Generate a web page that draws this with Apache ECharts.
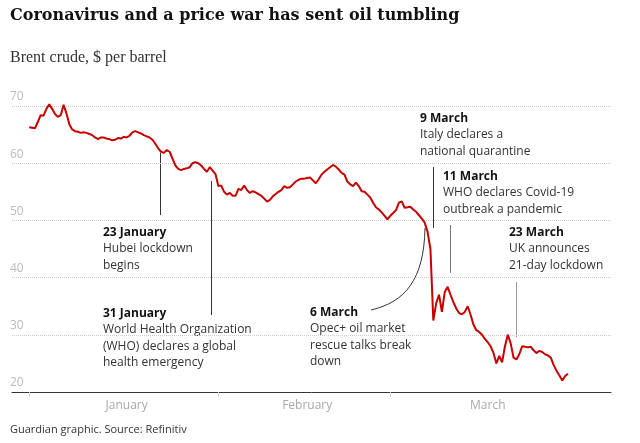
<!DOCTYPE html>
<html>
<head>
<meta charset="utf-8">
<script src="https://cdn.jsdelivr.net/npm/echarts@6/dist/echarts.min.js"></script>
<style>
  html, body { margin: 0; padding: 0; background: #fff; }
  #chart { width: 640px; height: 443px; }
</style>
</head>
<body>
<div id="chart"></div>
<script>
// axis runs over trading days only (weekends and new year skipped), three readings a day
const firstDay = "2019-12-30";
const lastDay = "2020-04-06";
const holidays = ["2020-01-01"];
const sessions = ["02:00", "10:00", "18:00"];
const dataStart = "2020-01-02 02:00";

// Brent crude, $ per barrel (Jan 2 -> Mar 30, 3 per day)
const brent = [
  66.3, 66.2, 66.1,  67.2, 68.4, 68.3,  69.5, 70.3, 69.5,  68.6, 68.1, 68.4,
  70.2, 68.7, 66.8,  65.9, 65.6, 65.5,  65.3, 65.4, 65.3,  65.1, 64.9, 64.5,
  64.2, 64.5, 64.5,  64.3, 64.2, 64.0,  64.1, 64.4, 64.3,  64.6, 64.5, 64.8,
  65.4, 65.6, 65.4,  65.2, 64.9, 64.7,  64.5, 64.1, 63.4,  62.6, 62.0, 61.8,
  62.3, 62.0, 60.8,  59.6, 59.0, 58.8,  59.0, 59.1, 59.3,  60.0, 60.2, 60.0,
  59.6, 59.0, 58.5,  59.3, 58.7, 58.1,
  56.0, 56.1, 55.0,  54.5, 54.8, 54.3,  54.3, 55.5, 55.3,  56.1, 55.3, 54.8,
  55.1, 54.9, 54.6,  54.3, 53.8, 53.3,  53.6, 54.2, 54.6,  55.0, 55.3, 56.0,
  55.7, 55.8, 56.3,  56.8, 57.1, 57.3,  57.3, 57.4, 57.5,  57.0, 56.5, 57.2,
  58.0, 58.5, 58.9,  59.3, 59.7, 59.4,  58.9, 58.3, 58.0,  56.8, 56.3, 56.0,
  56.6, 56.0, 55.1,  55.0, 54.5, 54.0,  53.1, 52.3, 51.9,  51.4, 50.8, 50.2,
  50.8, 51.3, 51.8,  53.1, 53.3, 52.2,  52.3, 52.4, 51.9,  51.5, 50.9, 50.3,
  49.6, 48.0, 45.0,  32.5, 35.5, 37.0,  34.0, 37.5, 38.4,  37.0, 35.7, 34.6,
  33.8, 33.6, 34.0,  35.0, 33.5, 31.8,  30.8, 30.5, 30.0,  29.3, 28.7, 28.0,
  26.8, 25.0, 26.3,  25.2, 28.0, 30.0,  28.5, 26.0, 25.7,  26.6, 28.0, 27.9,
  27.8, 27.9, 27.3,  26.8, 27.2, 27.0,  26.6, 26.4, 26.0,  24.7, 23.7, 22.9,
  22.0, 22.8, 23.2
];

const monthTicks = ["2020-01-02 02:00", "2020-02-03 02:00", "2020-03-02 02:00"];
const monthLabels = {
  "2020-01-17 10:00": "January",
  "2020-02-17 10:00": "February",
  "2020-03-17 10:00": "March"
};

const annotations = [
  { x: 103, y: 224, date: "23 January", lines: ["Hubei lockdown", "begins"] },
  { x: 103, y: 305, date: "31 January", lines: ["World Health Organization", "(WHO) declares a global", "health emergency"] },
  { x: 310, y: 304, date: "6 March", lines: ["Opec+ oil market", "rescue talks break", "down"] },
  { x: 420, y: 110, date: "9 March", lines: ["Italy declares a", "national quarantine"] },
  { x: 443, y: 168, date: "11 March", lines: ["WHO declares Covid-19", "outbreak a pandemic"] },
  { x: 509, y: 224, date: "23 March", lines: ["UK announces", "21-day lockdown"] }
];

const sans = "'Open Sans', sans-serif";
const serif = "'Liberation Serif', serif";
const slab = "'DejaVu Serif', serif";

function tradingDays(from, to) {
  const out = [];
  const d = new Date(from + "T00:00:00Z");
  const end = new Date(to + "T00:00:00Z");
  while (d <= end) {
    const wd = d.getUTCDay();
    const iso = d.toISOString().slice(0, 10);
    if (wd !== 0 && wd !== 6 && !holidays.includes(iso)) out.push(iso);
    d.setUTCDate(d.getUTCDate() + 1);
  }
  return out;
}

const categories = [];
tradingDays(firstDay, lastDay).forEach((day) => {
  sessions.forEach((s) => categories.push(day + " " + s));
});
const offset = categories.indexOf(dataStart);
const seriesData = categories.map((c, i) => {
  const k = i - offset;
  return k >= 0 && k < brent.length ? brent[k] : null;
});

const chart = echarts.init(document.getElementById("chart"));

const graphics = [
  {
    type: "text", left: 10, top: 8,
    style: { text: "Coronavirus and a price war has sent oil tumbling", font: "bold 16px " + slab, fill: "#121212" }
  },
  {
    type: "text", left: 10, top: 50,
    style: { text: "Brent crude, $ per barrel", font: "16px " + serif, fill: "#333" }
  },
  {
    type: "text", left: 10, top: 424,
    style: { text: "Guardian graphic. Source: Refinitiv", font: "11px " + sans, fill: "#333" }
  },
  // pointer lines
  { type: "line", shape: { x1: 160.5, y1: 153, x2: 160.5, y2: 215 }, style: { stroke: "#333", lineWidth: 1 } },
  { type: "line", shape: { x1: 211.5, y1: 181, x2: 211.5, y2: 315 }, style: { stroke: "#333", lineWidth: 1 } },
  { type: "line", shape: { x1: 433.5, y1: 167, x2: 433.5, y2: 228 }, style: { stroke: "#333", lineWidth: 1 } },
  { type: "line", shape: { x1: 450.5, y1: 225, x2: 450.5, y2: 273 }, style: { stroke: "#777", lineWidth: 1 } },
  { type: "line", shape: { x1: 516.5, y1: 282, x2: 516.5, y2: 337 }, style: { stroke: "#999", lineWidth: 1 } },
  {
    type: "bezierCurve",
    shape: { x1: 425, y1: 228, cpx1: 424, cpy1: 280, cpx2: 405, cpy2: 302, x2: 371, y2: 310 },
    style: { stroke: "#333", lineWidth: 1, fill: null }
  }
];

annotations.forEach((a) => {
  graphics.push({
    type: "text", left: a.x, top: a.y,
    style: {
      text: "{b|" + a.date + "}\n" + a.lines.join("\n"),
      font: "12px " + sans,
      fill: "#333",
      lineHeight: 16.5,
      rich: { b: { fontWeight: "bold", fontSize: 12, fontFamily: sans, fill: "#121212", lineHeight: 16.5 } }
    }
  });
});

chart.setOption({
  animation: false,
  grid: { left: 12, right: 29, top: 106, bottom: 51 },
  xAxis: {
    type: "category",
    data: categories,
    boundaryGap: false,
    axisLine: { lineStyle: { color: "#333", width: 1 } },
    axisTick: {
      interval: (i, v) => monthTicks.includes(v),
      length: 5,
      lineStyle: { color: "#ccc" }
    },
    axisLabel: {
      interval: (i, v) => v in monthLabels,
      formatter: (v) => monthLabels[v] || "",
      color: "#aaa",
      fontSize: 12,
      fontFamily: sans,
      margin: 8
    },
    splitLine: { show: false }
  },
  yAxis: {
    type: "value",
    min: 20,
    max: 70,
    interval: 10,
    axisLine: { show: false },
    axisTick: { show: false },
    axisLabel: {
      inside: true,
      verticalAlign: "bottom",
      margin: -2,
      padding: [0, 0, 3, 0],
      color: "#bbb",
      fontSize: 12,
      fontFamily: sans
    },
    splitLine: { lineStyle: { type: "dotted", color: "#ccc" } }
  },
  series: [
    {
      name: "Brent crude",
      type: "line",
      data: seriesData,
      symbol: "none",
      clip: false,
      lineStyle: { color: "#c70000", width: 2 }
    }
  ],
  graphic: graphics
});
</script>
</body>
</html>
